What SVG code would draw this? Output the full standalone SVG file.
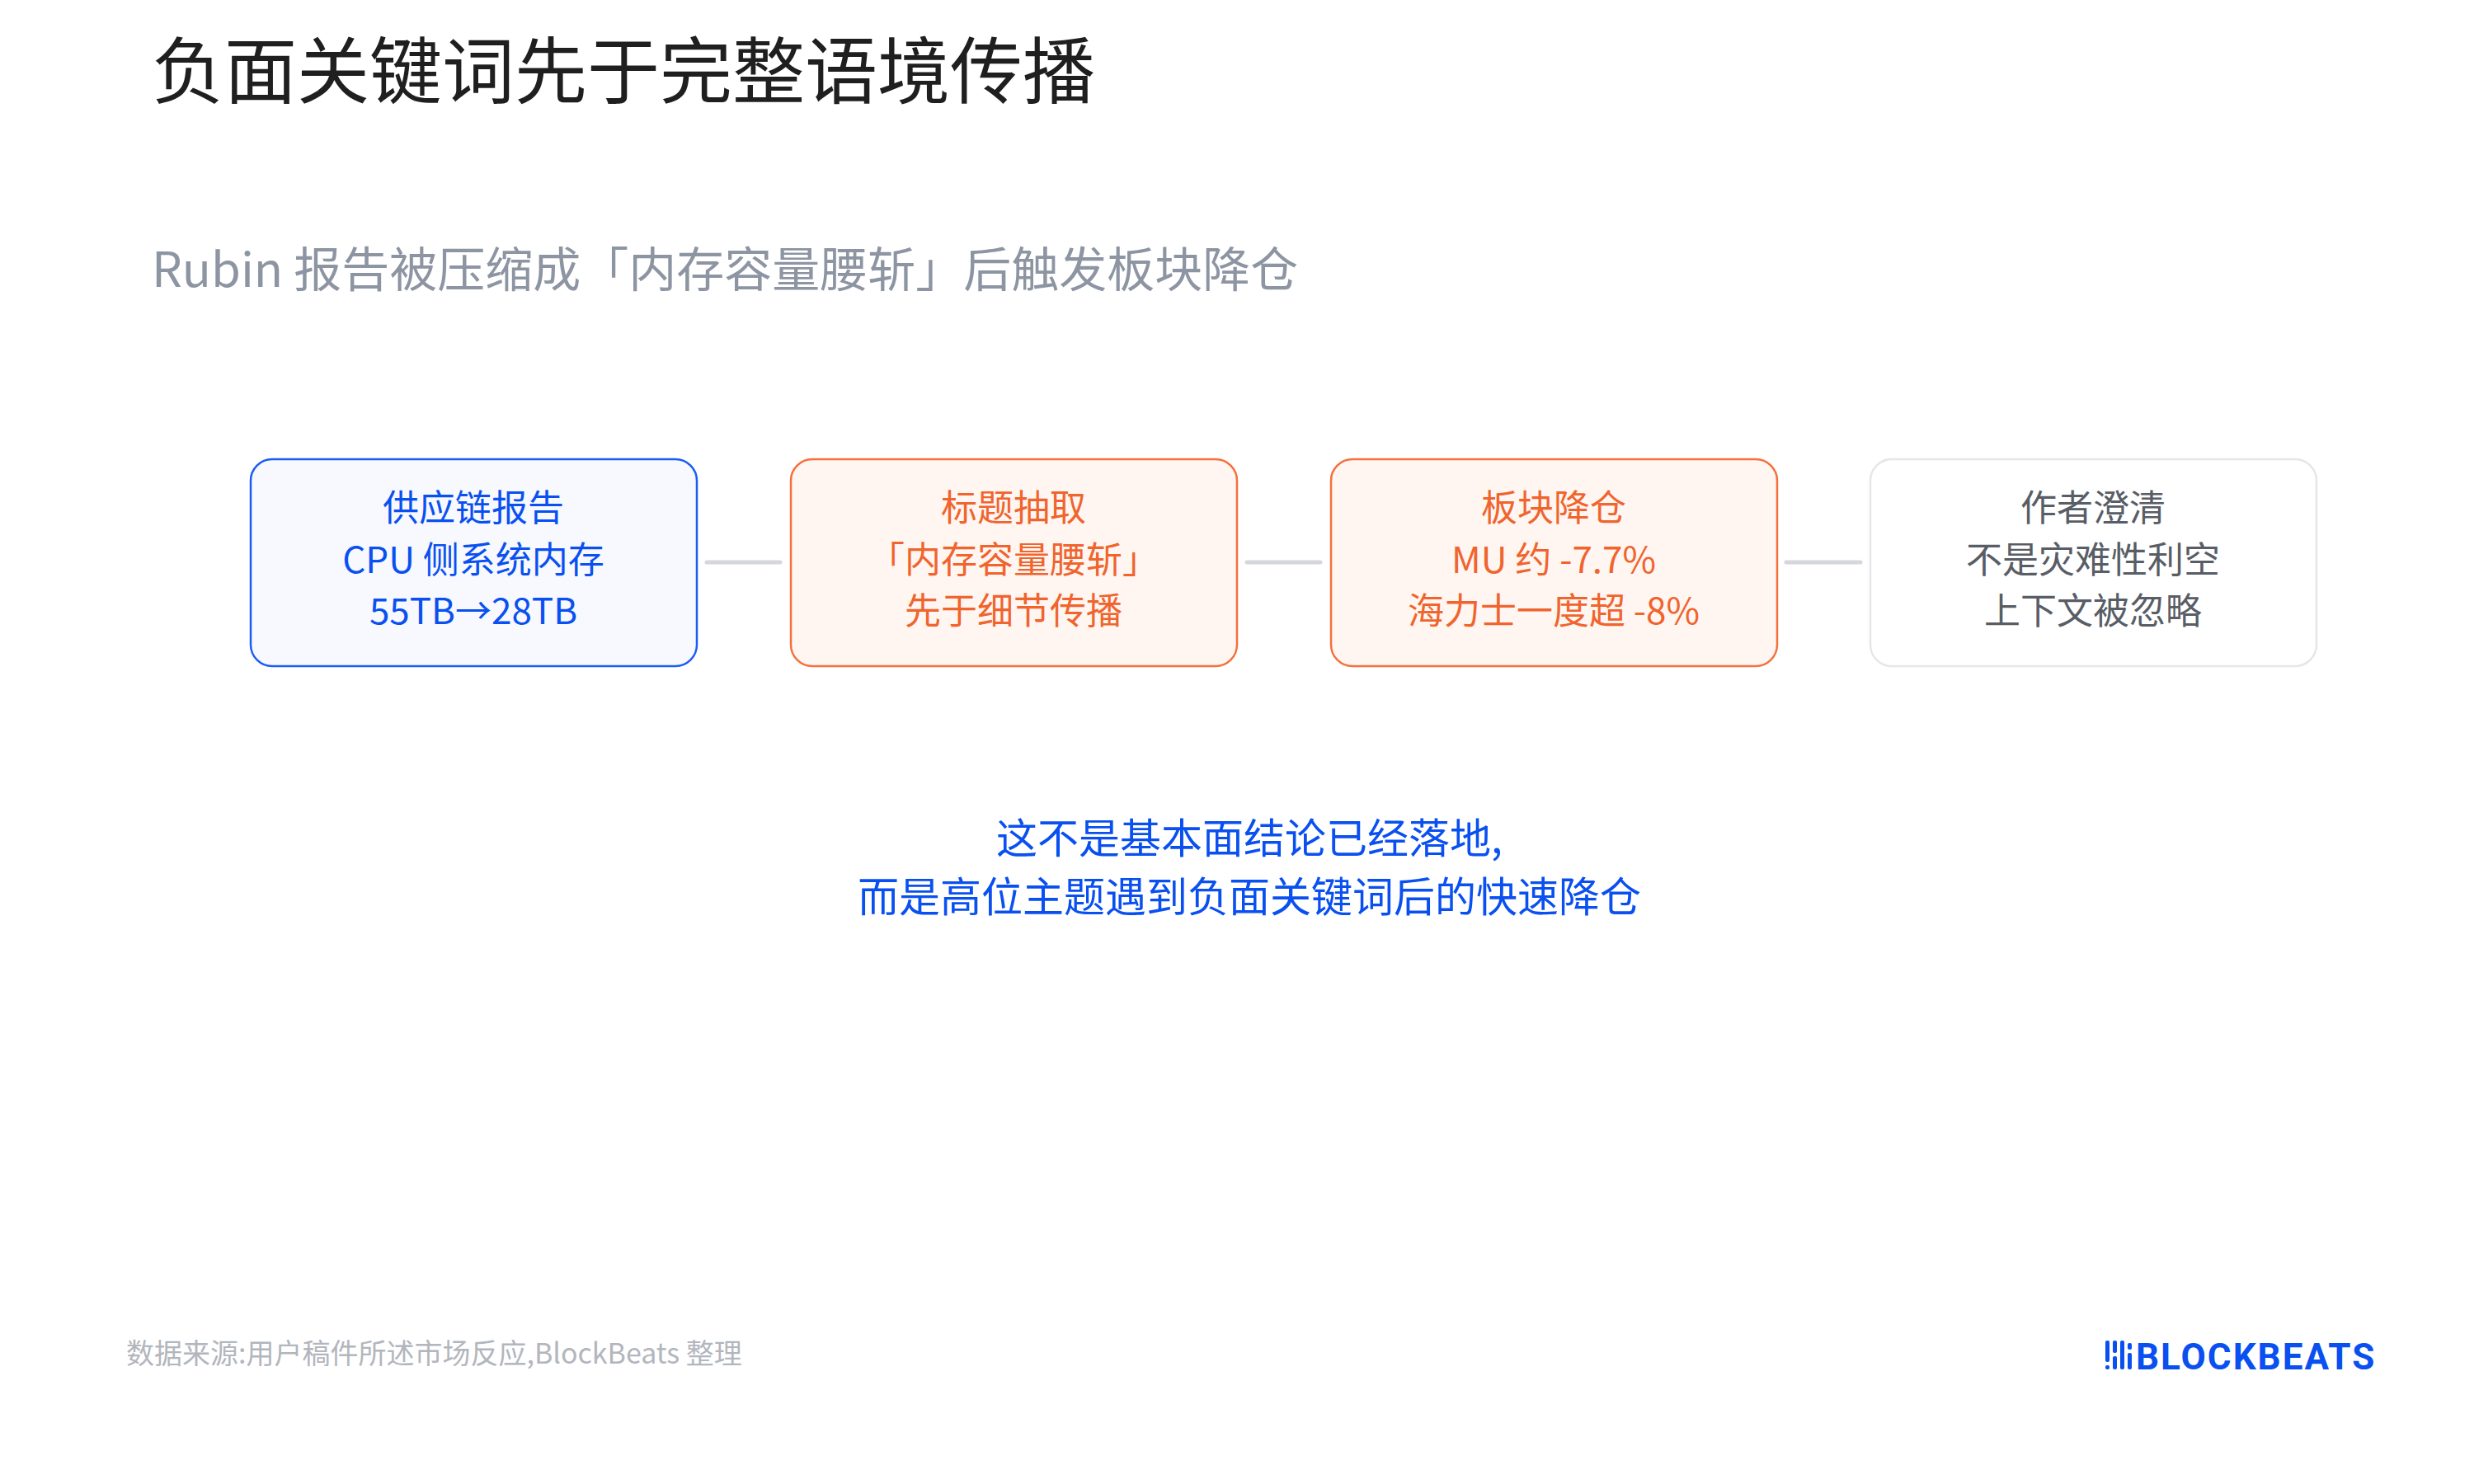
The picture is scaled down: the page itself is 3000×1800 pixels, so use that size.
<svg xmlns="http://www.w3.org/2000/svg" width="3000" height="1800" viewBox="0 0 3000 1800">
<style>
text{font-family:"Noto Sans CJK SC","Noto Sans",sans-serif}
.bx{stroke-width:2.5}
.t{font-size:44px;text-anchor:middle}
.conn{stroke:#d5d7dc;stroke-width:5;stroke-linecap:round}
</style>
<rect width="3000" height="1800" fill="#fff"/>
<text x="184" y="118" font-size="88" fill="#1f1f1f">负面关键词先于完整语境传播</text>
<text x="184" y="348" font-size="58" fill="#8d95a3">Rubin 报告被压缩成「内存容量腰斩」后触发板块降仓</text>
<g id="connectors">
<line class="conn" x1="857" y1="682" x2="946" y2="682"/>
<line class="conn" x1="1512" y1="682" x2="1601" y2="682"/>
<line class="conn" x1="2166" y1="682" x2="2256" y2="682"/>
</g>
<g id="n1">
<rect class="bx" x="304" y="557" width="541" height="251" rx="26" fill="#f7f9ff" stroke="#1a5cf5"/>
<g class="t" fill="#0a50f0"><text x="574" y="632">供应链报告</text><text x="574" y="695">CPU 侧系统内存</text><text x="574" y="757">55TB→28TB</text></g>
</g>
<g id="n2">
<rect class="bx" x="959" y="557" width="541" height="251" rx="26" fill="#fff6f2" stroke="#f5703c"/>
<g class="t" fill="#f0642d"><text x="1229" y="632">标题抽取</text><text x="1229" y="695">「内存容量腰斩」</text><text x="1229" y="757">先于细节传播</text></g>
</g>
<g id="n3">
<rect class="bx" x="1614" y="557" width="541" height="251" rx="26" fill="#fff6f2" stroke="#f5703c"/>
<g class="t" fill="#f0642d"><text x="1884" y="632">板块降仓</text><text x="1884" y="695">MU 约 -7.7%</text><text x="1884" y="757">海力士一度超 -8%</text></g>
</g>
<g id="n4">
<rect class="bx" x="2268" y="557" width="541" height="251" rx="26" fill="#ffffff" stroke="#e4e6ea"/>
<g class="t" fill="#585d66"><text x="2538" y="632">作者澄清</text><text x="2538" y="695">不是灾难性利空</text><text x="2538" y="757">上下文被忽略</text></g>
</g>
<g font-size="50" text-anchor="middle" fill="#0a50f0">
<text x="1515" y="1035">这不是基本面结论已经落地,</text>
<text x="1515" y="1106">而是高位主题遇到负面关键词后的快速降仓</text>
</g>
<text x="153" y="1654" font-size="34" fill="#b2b6bd">数据来源:用户稿件所述市场反应,BlockBeats 整理</text>
<g id="logo" fill="#0a50f0">
<rect x="2553" y="1626" width="5" height="26" rx="2"/><rect x="2553" y="1656" width="5" height="5" rx="2"/>
<rect x="2562" y="1626" width="5" height="15" rx="2"/><rect x="2562" y="1645" width="5" height="16" rx="2"/>
<rect x="2571" y="1626" width="5" height="35" rx="2"/>
<rect x="2580" y="1629" width="5" height="8" rx="2"/><rect x="2580" y="1641" width="5" height="20" rx="2"/>
<text x="2590" y="1661" font-family="Roboto,'Noto Sans',sans-serif" font-weight="700" font-size="44" letter-spacing="2" style="font-family:Roboto,sans-serif">BLOCKBEATS</text>
</g>
</svg>
